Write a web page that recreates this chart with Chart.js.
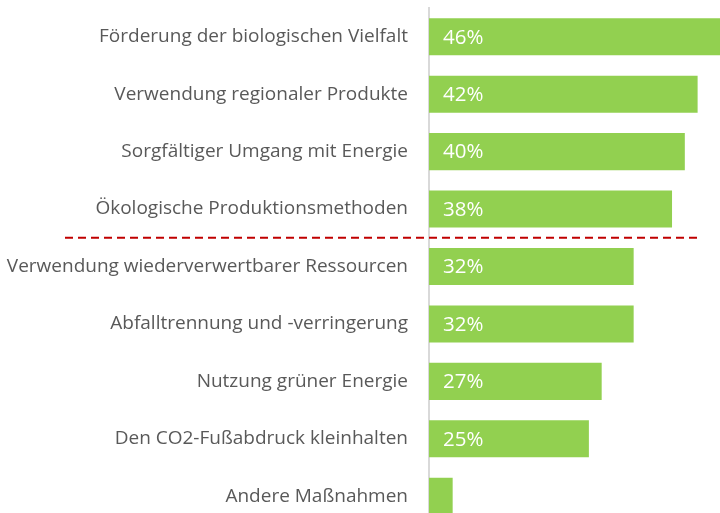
<!DOCTYPE html>
<html>
<head>
<meta charset="utf-8">
<script src="https://cdn.jsdelivr.net/npm/chart.js@4"></script>
<style>
  html, body { margin: 0; padding: 0; background: #fff; overflow: hidden; }
  #wrap { width: 720px; height: 530px; }
</style>
</head>
<body>
<div id="wrap"><canvas id="chart" width="720" height="530"></canvas></div>
<script>
// Chart data
const categories = [
    'Förderung der biologischen Vielfalt',
    'Verwendung regionaler Produkte',
    'Sorgfältiger Umgang mit Energie',
    'Ökologische Produktionsmethoden',
    'Verwendung wiederverwertbarer Ressourcen',
    'Abfalltrennung und -verringerung',
    'Nutzung grüner Energie',
    'Den CO2-Fußabdruck kleinhalten',
    'Andere Maßnahmen'
];
const values = [46, 42, 40, 38, 32, 32, 27, 25, 3.7];
const valueLabels = ['46%', '42%', '40%', '38%', '32%', '32%', '27%', '25%', ''];
const dividerAfter = 3; // red dashed line after this index

// Draw percentages inside bars and the dashed divider
const overlayPlugin = {
    id: 'overlay',
    afterDatasetsDraw(chart) {
        const ctx = chart.ctx;
        const x = chart.scales.x;
        const y = chart.scales.y;
        ctx.save();
        ctx.fillStyle = '#ffffff';
        ctx.font = '20.5px "Open Sans"';
        ctx.textBaseline = 'middle';
        ctx.textAlign = 'left';
        valueLabels.forEach((lbl, i) => {
            if (!lbl) return;
            ctx.fillText(lbl, x.getPixelForValue(0) + 14, y.getPixelForValue(i) + 1);
        });
        const yLine = (y.getPixelForValue(dividerAfter) + y.getPixelForValue(dividerAfter + 1)) / 2;
        ctx.strokeStyle = '#c00000';
        ctx.lineWidth = 2;
        ctx.setLineDash([8, 5]);
        ctx.beginPath();
        ctx.moveTo(65, yLine);
        ctx.lineTo(700, yLine);
        ctx.stroke();
        ctx.restore();
    }
};

new Chart(document.getElementById('chart'), {
    type: 'bar',
    data: {
        labels: categories,
        datasets: [{
            data: values,
            backgroundColor: '#92d050',
            barPercentage: 0.645,
            categoryPercentage: 1
        }]
    },
    options: {
        indexAxis: 'y',
        responsive: false,
        animation: false,
        layout: { padding: { top: 8, right: 0, bottom: 5, left: 0 } },
        plugins: {
            legend: { display: false },
            tooltip: { enabled: false }
        },
        scales: {
            x: {
                display: false,
                min: 0,
                max: 45.5
            },
            y: {
                afterFit: (scale) => {
                    scale.width = 429;
                    scale.paddingTop = 0;
                    scale.paddingBottom = 0;
                },
                grid: { display: false, drawTicks: false },
                border: { display: true, color: '#d9d9d9', width: 2 },
                ticks: {
                    color: '#595959',
                    font: { family: 'Open Sans', size: 19 },
                    padding: 21
                }
            }
        }
    },
    plugins: [overlayPlugin]
});
</script>
</body>
</html>
